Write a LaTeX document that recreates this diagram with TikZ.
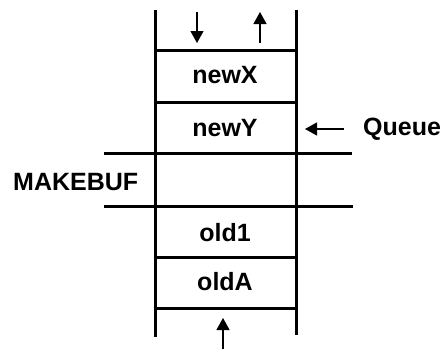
\documentclass[tikz,border=0pt]{standalone}
\usepackage{fontspec}
\setmainfont{Liberation Sans}
\usetikzlibrary{arrows.meta}
\begin{document}
\begin{tikzpicture}[x=1pt,y=-1pt,
  wall/.style={line width=3pt},
  flow/.style={line width=1.2pt,-{Triangle[length=12pt,width=13pt]}},
  lbl/.style={font=\fontsize{25}{28}\selectfont\bfseries,inner sep=0pt}]
\useasboundingbox (0,0) rectangle (443,349);
% stack walls
\draw[wall] (155,10) -- (155,337);
\draw[wall] (296,10) -- (296,335);
% separators
\draw[wall] (155,50) -- (296,50);
\draw[wall] (155,102) -- (296,102);
\draw[wall] (104,153) -- (352,153);
\draw[wall] (104,206) -- (353,206);
\draw[wall] (155,257) -- (296,257);
\draw[wall] (155,308) -- (296,308);
% labels
\node[lbl] (newX) at (225,75) {newX};
\node[lbl] (newY) at (225,128) {newY};
\node[lbl,anchor=west] (queue) at (363,129) {Queue};
\node[lbl,anchor=west] (makebuf) at (13,182) {MAKEBUF};
\node[lbl] (old1) at (225,233) {old1};
\node[lbl] (oldA) at (225,282) {oldA};
% arrows
\coordinate (dA) at (197,12);
\coordinate (dB) at (197,43);
\coordinate (uA) at (260,43);
\coordinate (uB) at (260,12);
\coordinate (qA) at (344,129);
\coordinate (qB) at (305,129);
\coordinate (bA) at (223,349);
\coordinate (bB) at (223,318);
\draw[flow] (dA) -- (dB);
\draw[flow] (uA) -- (uB);
\draw[flow] (qA) -- (qB);
\draw[flow] (bA) -- (bB);
\end{tikzpicture}
\end{document}
